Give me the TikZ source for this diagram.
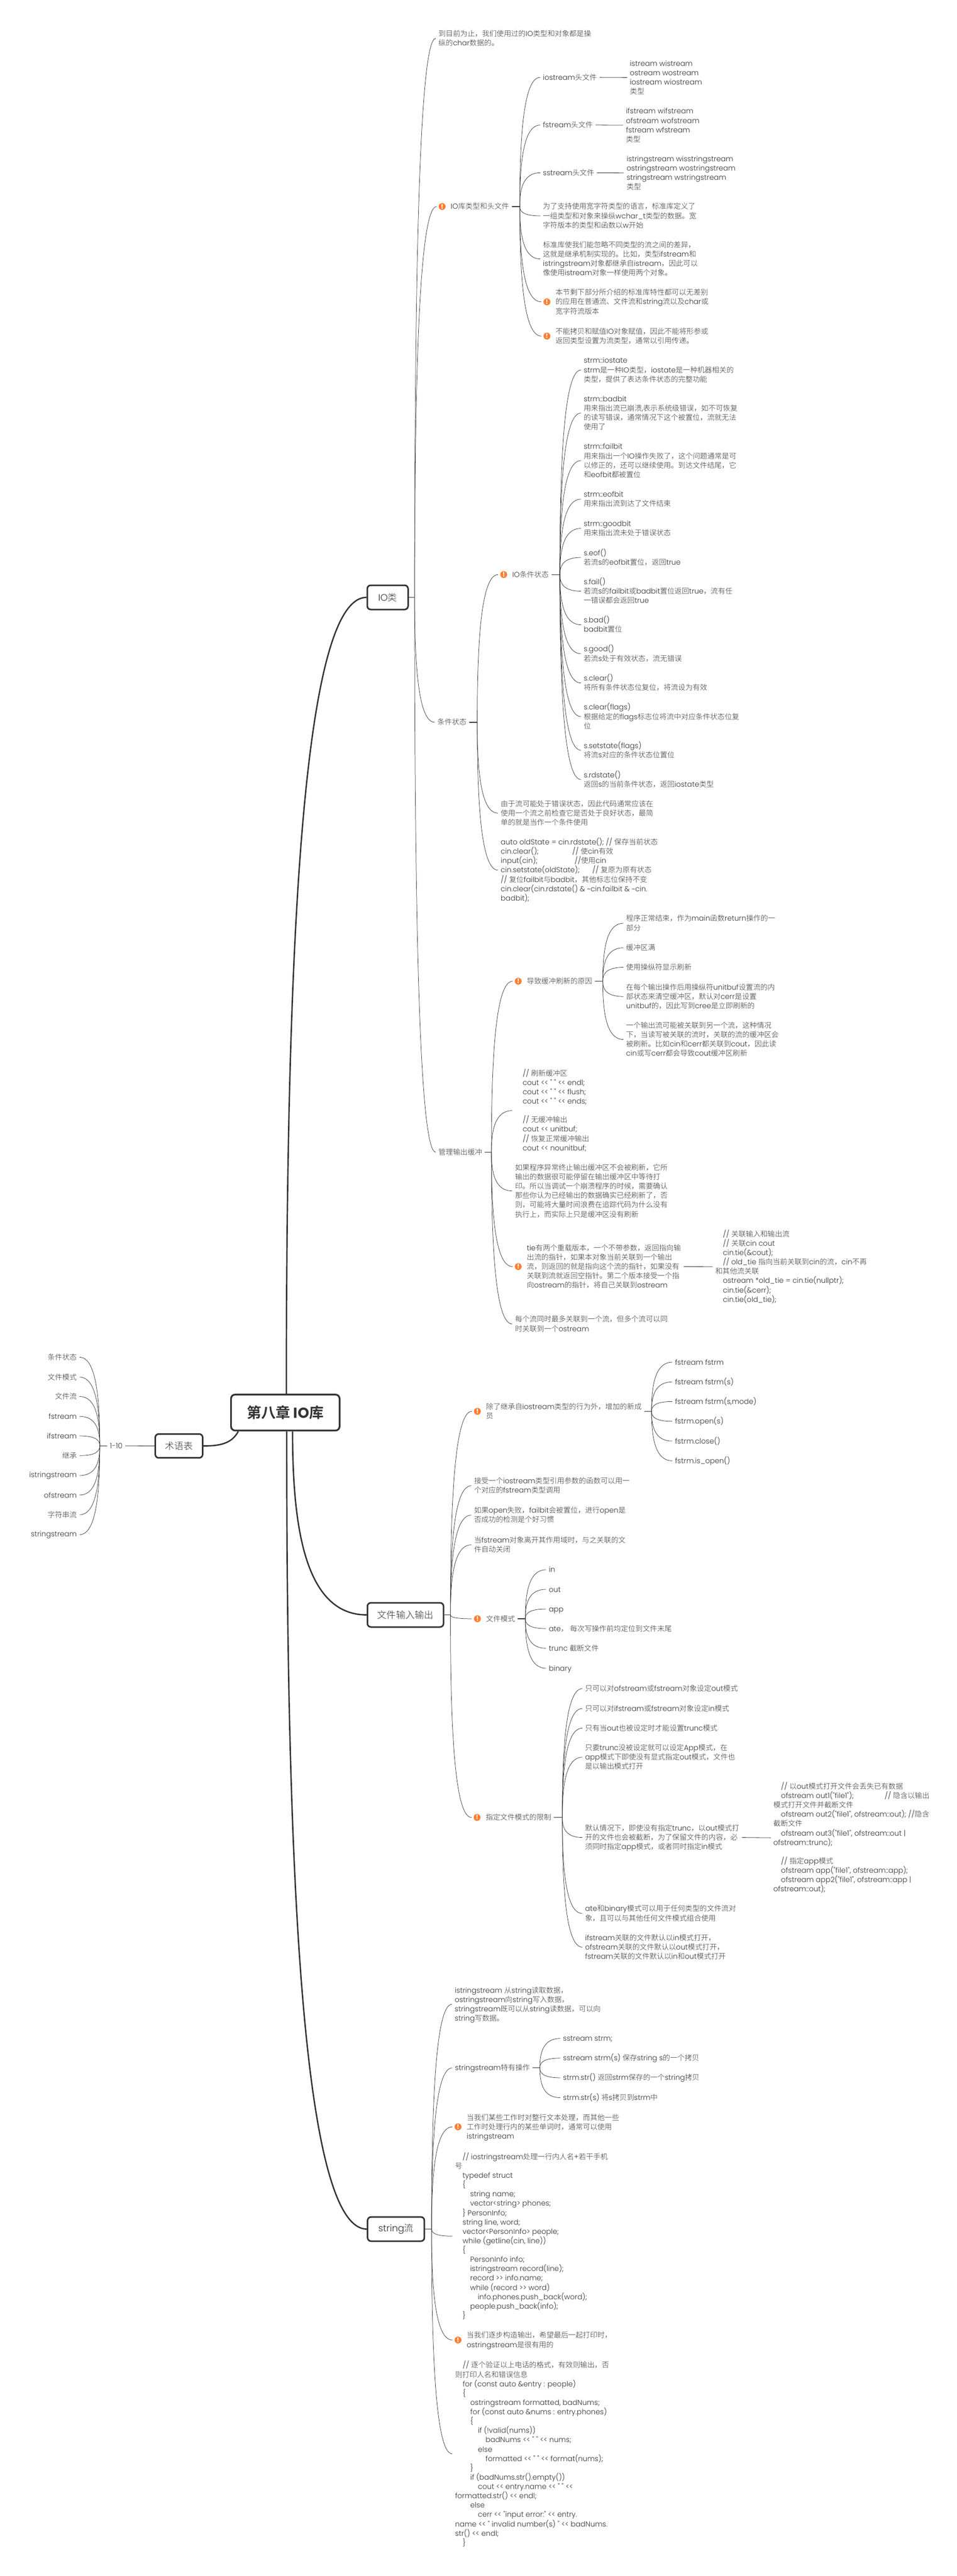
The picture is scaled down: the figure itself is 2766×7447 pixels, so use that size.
\documentclass[tikz,border=0pt]{standalone}
\usepackage{fontspec}
\usetikzlibrary{calc}
\newfontfamily\lat{Poppins}[UprightFont=* Light,BoldFont=* Bold]
\newfontfamily\cjk{Noto Sans CJK SC}[UprightFont=* Light,BoldFont=* Bold]
\XeTeXinterchartokenstate=1
\newcount\cjkcc
\cjkcc="3000
\loop \XeTeXcharclass\cjkcc=7 \ifnum\cjkcc<"9FFF \advance\cjkcc by 1 \repeat
\cjkcc="FF00
\loop \XeTeXcharclass\cjkcc=7 \ifnum\cjkcc<"FFEF \advance\cjkcc by 1 \repeat
\XeTeXinterchartoks 0 7 = {\cjk}
\XeTeXinterchartoks 4095 7 = {\cjk}
\XeTeXinterchartoks 7 0 = {\lat}
\XeTeXinterchartoks 7 4095 = {\lat}
\definecolor{tc}{HTML}{333333}
\definecolor{warnc}{HTML}{FF7F32}
\tikzset{
  txt/.style={anchor=west,inner sep=0pt,outer xsep=8pt,outer ysep=0pt,align=left,text=tc,font=\lat\fontsize{21}{27}\selectfont},
  txtr/.style={anchor=east,inner sep=0pt,outer xsep=8pt,outer ysep=0pt,align=right,text=tc,font=\lat\fontsize{21}{27}\selectfont},
  warn/.style={circle,fill=warnc,inner sep=0pt,minimum size=20pt,outer sep=6pt,text=white,font=\lat\bfseries\fontsize{18}{18}\selectfont},
  topic/.style={draw=tc,line width=4.5pt,rounded corners=10pt,fill=white,inner sep=0pt,text=tc,font=\lat\fontsize{27}{32}\selectfont},
  rootbox/.style={draw=tc,line width=5pt,rounded corners=12pt,fill=white,inner sep=0pt,text=tc,font=\lat\bfseries\fontsize{42}{48}\selectfont},
  conn/.style={draw=tc,line width=1.1pt},
  stub/.style={draw=tc,line width=2pt},
  thin stub/.style={draw=tc,line width=1.2pt},
  thick conn/.style={draw=tc,line width=4pt}
}
\newcommand\tsa{\rule{0pt}{20.5pt}}
\newcommand\tsb{\rule[-5.5pt]{0pt}{5.5pt}}
\newcommand\tx[4]{\node[txt] (#1) at (#2,#3) {\tsa #4\tsb};}
\newcommand\txi[4]{\node[warn] (#1i) at ({#2+16.5},#3) {!};\node[txt] (#1) at ({#2+33.5},#3) {\tsa #4\tsb};}
\newcommand\cv[3][conn]{\draw[#1] let \p1=(#2),\p2=(#3) in (\p1) .. controls (\x1,{0.5*\y1+0.5*\y2}) and ({0.85*\x1+0.15*\x2},\y2) .. (\p2);}
\newcommand\I{\hspace*{22pt}}
\newcommand\II{\hspace*{44pt}}
\newcommand\III{\hspace*{66pt}}
\newcommand\IV{\hspace*{88pt}}
\begin{document}
\begin{tikzpicture}[x=1pt,y=-1pt]
\useasboundingbox (0,0) rectangle (2766,7447);
% junctions
\coordinate (jio) at (1199,1727);
\coordinate (jiok) at (1503,597);
\coordinate (jcond) at (1380,2088);
\coordinate (jst) at (1619,1661);
\coordinate (jbuf) at (1421,3331);
\coordinate (jfl) at (1743,2836.6);
\coordinate (jfile) at (1302.5,4668.5);
\coordinate (jmem) at (1884,4080);
\coordinate (jmode) at (1519,4679.6);
\coordinate (jlim) at (1626,5254);
\coordinate (jstr) at (1248,6444);
\coordinate (jops) at (1561,5978);
\coordinate (jterm) at (288.5,4179.5);
% topics
\node[rootbox,minimum width=314pt,minimum height=104pt] (root) at (825,4083.5) {第八章 IO库};
\node[topic,minimum width=118pt,minimum height=70pt] (io) at (1121,1727) {IO类};
\node[topic,minimum width=137pt,minimum height=69pt] (term) at (517.5,4180) {术语表};
\node[topic,minimum width=220pt,minimum height=70pt] (file) at (1172.5,4668.5) {文件输入输出};
\node[topic,minimum width=164pt,minimum height=70pt] (str) at (1145,6444) {string流};
\coordinate (r1) at ([xshift=3pt]root.north);
\coordinate (r2) at ([xshift=21pt]root.south);
\coordinate (r3) at ([xshift=4pt]root.south);
\coordinate (r4) at ([xshift=-136pt]root.south);
\cv[thick conn]{r1}{io.west}
\cv[thick conn]{r2}{file.west}
\cv[thick conn]{r3}{str.west}
\draw[thick conn] (r4) to[out=-118,in=0] (term.east);
\draw[thin stub] (io.east) -- (jio);
\draw[thin stub] (file.east) -- (jfile);
\draw[thin stub] (str.east) -- (jstr);
% IO branch
\tx{a1}{1260}{111}{到目前为止，我们使用过的IO类型和对象都是操\\纵的char数据的。}
\txi{a2}{1262}{597}{IO库类型和头文件}
\tx{a3}{1257}{2088}{条件状态}
\tx{a4}{1260}{3331}{管理输出缓冲}
\cv{jio}{a1.west}
\cv{jio}{a2i.west}
\cv{jio}{a3.west}
\cv{jio}{a4.west}
\draw[stub] (a2.east) -- (jiok);
\draw[stub] (a3.east) -- (jcond);
\draw[stub] (a4.east) -- (jbuf);
% IO lib types
\tx{b1}{1562}{223.6}{iostream头文件}
\tx{b1c}{1813.5}{224}{istream wistream\\ostream wostream\\iostream wiostream\\类型}
\tx{b2}{1562}{361.6}{fstream头文件}
\tx{b2c}{1802}{362}{ifstream wifstream\\ofstream wofstream\\fstream wfstream\\类型}
\tx{b3}{1562}{499.5}{sstream头文件}
\tx{b3c}{1804}{500}{istringstream wisstringstream\\ostringstream wostringstream\\stringstream wstringstream\\类型}
\tx{b4}{1562}{624}{为了支持使用宽字符类型的语言，标准库定义了\\一组类型和对象来操纵wchar\_t类型的数据。宽\\字符版本的类型和函数以w开始}
\tx{b5}{1562}{748.6}{标准库使我们能忽略不同类型的流之间的差异，\\这就是继承机制实现的。比如，类型ifstream和\\istringstream对象都继承自istream，因此可以\\像使用istream对象一样使用两个对象。}
\txi{b6}{1565}{872.6}{本节剩下部分所介绍的标准库特性都可以无差别\\的应用在普通流、文件流和string流以及char或\\宽字符流版本}
\txi{b7}{1565}{971.6}{不能拷贝和赋值IO对象赋值，因此不能将形参或\\返回类型设置为流类型，通常以引用传递。}
\cv{jiok}{b1.west}
\cv{jiok}{b2.west}
\cv{jiok}{b3.west}
\cv{jiok}{b4.west}
\cv{jiok}{b5.west}
\cv{jiok}{b6i.west}
\cv{jiok}{b7i.west}
\draw[thin stub] (b1.east) -- (b1c.west);
\draw[thin stub] (b2.east) -- (b2c.west);
\draw[thin stub] (b3.east) -- (b3c.west);
% condition state
\txi{c0}{1440}{1661}{IO条件状态}
\tx{c1}{1680}{1069.5}{strm::iostate\\strm是一种IO类型，iostate是一种机器相关的\\类型，提供了表达条件状态的完整功能}
\tx{c2}{1680}{1194}{strm::badbit\\用来指出流已崩溃,表示系统级错误，如不可恢复\\的读写错误，通常情况下这个被置位，流就无法\\使用了}
\tx{c3}{1680}{1331.6}{strm::failbit\\用来指出一个IO操作失败了，这个问题通常是可\\以修正的，还可以继续使用。到达文件结尾，它\\和eofbit都被置位}
\tx{c4}{1680}{1443}{strm::eofbit\\用来指出流到达了文件结束}
\tx{c5}{1680}{1527.5}{strm::goodbit\\用来指出流未处于错误状态}
\tx{c6}{1680}{1611.6}{s.eof()\\若流s的eofbit置位，返回true}
\tx{c7}{1680}{1709}{s.fail()\\若流s的failbit或badbit置位返回true，流有任\\一错误都会返回true}
\tx{c8}{1680}{1806}{s.bad()\\badbit置位}
\tx{c9}{1680}{1890}{s.good()\\若流s处于有效状态，流无错误}
\tx{c10}{1680}{1974.5}{s.clear()\\将所有条件状态位复位，将流设为有效}
\tx{c11}{1680}{2071.7}{s.clear(flags)\\根据给定的flags标志位将流中对应条件状态位复\\位}
\tx{c12}{1680}{2169}{s.setstate(flags)\\将流s对应的条件状态位置位}
\tx{c13}{1680}{2253.7}{s.rdstate()\\返回s的当前条件状态，返回iostate类型}
\tx{c14}{1440}{2350.7}{由于流可能处于错误状态，因此代码通常应该在\\使用一个流之前检查它是否处于良好状态，最简\\单的就是当作一个条件使用}
\tx{c15}{1440}{2515.5}{auto oldState = cin.rdstate(); // 保存当前状态\\\makebox[207pt][l]{cin.clear();}// 使cin有效\\\makebox[213.6pt][l]{input(cin);}//使用cin\\\makebox[265pt][l]{cin.setstate(oldState);}// 复原为原有状态\\// 复位failbit与badbit，其他标志位保持不变\\cin.clear(cin.rdstate() \& \textasciitilde{}cin.failbit \& \textasciitilde{}cin.\\badbit);}
\cv{jcond}{c0i.west}
\cv{jcond}{c14.west}
\cv{jcond}{c15.west}
\draw[stub] (c0.east) -- (jst);
\foreach \k in {1,...,13}{\cv{jst}{c\k.west}}
% buffer
\txi{d0}{1482}{2836.6}{导致缓冲刷新的原因}
\tx{d1}{1481.4}{3210.6}{\I // 刷新缓冲区\\\I cout << " " << endl;\\\I cout << " " << flush;\\\I cout << " " << ends;\\\mbox{}\\\I // 无缓冲输出\\\I cout << unitbuf;\\\I // 恢复正常缓冲输出\\\I cout << nounitbuf;}
\tx{d2}{1481.4}{3443}{如果程序异常终止输出缓冲区不会被刷新，它所\\输出的数据很可能停留在输出缓冲区中等待打\\印。所以当调试一个崩溃程序的时候，需要确认\\那些你认为已经输出的数据确实已经刷新了，否\\则，可能将大量时间浪费在追踪代码为什么没有\\执行上，而实际上只是缓冲区没有刷新}
\txi{d3}{1482}{3661.6}{tie有两个重载版本，一个不带参数，返回指向输\\出流的指针，如果本对象当前关联到一个输出\\流，则返回的就是指向这个流的指针，如果没有\\关联到流就返回空指针。第二个版本接受一个指\\向ostream的指针，将自己关联到ostream}
\tx{d3c}{2060.6}{3662}{\I // 关联输入和输出流\\\I // 关联cin cout\\\I cin.tie(\&cout);\\\I // old\_tie 指向当前关联到cin的流，cin不再\\和其他流关联\\\I ostream *old\_tie = cin.tie(nullptr);\\\I cin.tie(\&cerr);\\\I cin.tie(old\_tie);}
\tx{d4}{1481.4}{3827.6}{每个流同时最多关联到一个流，但多个流可以同\\时关联到一个ostream}
\tx{e1}{1802.7}{2669}{程序正常结束，作为main函数return操作的一\\部分}
\tx{e2}{1802.7}{2740}{缓冲区满}
\tx{e3}{1802.7}{2796.4}{使用操纵符显示刷新}
\tx{e4}{1802.7}{2880.8}{在每个输出操作后用操纵符unitbuf设置流的内\\部状态来清空缓冲区，默认对cerr是设置\\unitbuf的，因此写到cree是立即刷新的}
\tx{e5}{1802.7}{3005}{一个输出流可能被关联到另一个流，这种情况\\下，当读写被关联的流时，关联的流的缓冲区会\\被刷新。比如cin和cerr都关联到cout，因此读\\cin或写cerr都会导致cout缓冲区刷新}
\cv{jbuf}{d0i.west}
\cv{jbuf}{d1.west}
\cv{jbuf}{d2.west}
\cv{jbuf}{d3i.west}
\cv{jbuf}{d4.west}
\draw[stub] (d0.east) -- (jfl);
\draw[thin stub] (d3.east) -- (d3c.west);
\foreach \k in {1,...,5}{\cv{jfl}{e\k.west}}
% file io
\txi{f1}{1364}{4080}{除了继承自iostream类型的行为外，增加的新成\\员}
\tx{f2}{1363}{4295}{接受一个iostream类型引用参数的函数可以用一\\个对应的fstream类型调用}
\tx{f3}{1363}{4380}{如果open失败，failbit会被置位，进行open是\\否成功的检测是个好习惯}
\tx{f4}{1363}{4466}{当fstream对象离开其作用域时，与之关联的文\\件自动关闭}
\txi{f5}{1364}{4679.6}{文件模式}
\txi{f6}{1363}{5254}{指定文件模式的限制}
\foreach \k in {2,3,4}{\cv{jfile}{f\k.west}}
\foreach \k in {1,5,6}{\cv{jfile}{f\k i.west}}
\draw[stub] (f1.east) -- (jmem);
\draw[stub] (f5.east) -- (jmode);
\draw[stub] (f6.east) -- (jlim);
\tx{g1}{1944}{3938}{fstream fstrm}
\tx{g2}{1944}{3995}{fstream fstrm(s)}
\tx{g3}{1944}{4051.7}{fstream fstrm(s,mode)}
\tx{g4}{1944}{4109}{fstrm.open(s)}
\tx{g5}{1944}{4166}{fstrm.close()}
\tx{g6}{1944}{4223}{fstrm.is\_open()}
\foreach \k in {1,...,6}{\cv{jmem}{g\k.west}}
\tx{h1}{1579}{4538}{in}
\tx{h2}{1579}{4594.7}{out}
\tx{h3}{1579}{4651.5}{app}
\tx{h4}{1579}{4708}{ate， 每次写操作前均定位到文件末尾}
\tx{h5}{1579}{4765}{trunc 截断文件}
\tx{h6}{1579}{4822.6}{binary}
\foreach \k in {1,...,6}{\cv{jmode}{h\k.west}}
\tx{k1}{1684}{4881.6}{只可以对ofstream或fstream对象设定out模式}
\tx{k2}{1684}{4939}{只可以对ifstream或fstream对象设定in模式}
\tx{k3}{1684}{4996}{只有当out也被设定时才能设置trunc模式}
\tx{k4}{1684}{5080}{只要trunc没被设定就可以设定App模式，在\\app模式下即使没有显式指定out模式，文件也\\是以输出模式打开}
\tx{k5}{1684}{5312}{默认情况下，即使没有指定trunc，以out模式打\\开的文件也会被截断，为了保留文件的内容，必\\须同时指定app模式，或者同时指定in模式}
\tx{k5c}{2228.6}{5312.8}{\I // 以out模式打开文件会丢失已有数据\\\I\makebox[299.6pt][l]{ofstream out1("file1");}// 隐含以输出\\模式打开文件并截断文件\\\I ofstream out2("file1", ofstream::out); //隐含\\截断文件\\\I ofstream out3("file1", ofstream::out |\\ofstream::trunc);\\\mbox{}\\\I // 指定app模式\\\I ofstream app("file1", ofstream::app);\\\I ofstream app2("file1", ofstream::app |\\ofstream::out);}
\tx{k6}{1684}{5531.6}{ate和binary模式可以用于任何类型的文件流对\\象，且可以与其他任何文件模式组合使用}
\tx{k7}{1684}{5629}{ifstream关联的文件默认以in模式打开，\\ofstream关联的文件默认以out模式打开，\\fstream关联的文件默认以in和out模式打开}
\foreach \k in {1,...,7}{\cv{jlim}{k\k.west}}
\draw[thin stub] (k5.east) -- (k5c.west);
% string stream
\tx{m1}{1307}{5794}{istringstream 从string读取数据，\\ostringstream向string写入数据，\\stringstream既可以从string读数据，可以向\\string写数据。}
\tx{m2}{1307.7}{5978}{stringstream特有操作}
\txi{m3}{1308}{6148.4}{当我们某些工作时对整行文本处理，而其他一些\\工作时处理行内的某些单词时，通常可以使用\\istringstream}
\tx{m4}{1307.7}{6464.4}{\I // iostringstream处理一行内人名+若干手机\\号\\\I typedef struct\\\I \{\\\II string name;\\\II vector<string> phones;\\\I \} PersonInfo;\\\I string line, word;\\\I vector<PersonInfo> people;\\\I while (getline(cin, line))\\\I \{\\\II PersonInfo info;\\\II istringstream record(line);\\\II record >> info.name;\\\II while (record >> word)\\\III info.phones.push\_back(word);\\\II people.push\_back(info);\\\I \}}
\txi{m5}{1308}{6764.8}{当我们逐步构造输出，希望最后一起打印时，\\ostringstream是很有用的}
\tx{m6}{1308}{7094}{\I // 逐个验证以上电话的格式，有效则输出，否\\则打印人名和错误信息\\\I for (const auto \&entry : people)\\\I \{\\\II ostringstream formatted, badNums;\\\II for (const auto \&nums : entry.phones)\\\II \{\\\III if (!valid(nums))\\\IV badNums << " " << nums;\\\III else\\\IV formatted << " " << format(nums);\\\II \}\\\II if (badNums.str().empty())\\\III cout << entry.name << " " <<\\formatted.str() << endl;\\\II else\\\III cerr << "input error:" << entry.\\name << " invalid number(s) " << badNums.\\str() << endl;\\\I \}}
\foreach \k in {1,2,4,6}{\cv{jstr}{m\k.west}}
\foreach \k in {3,5}{\cv{jstr}{m\k i.west}}
\draw[stub] (m2.east) -- (jops);
\tx{n1}{1620}{5893}{sstream strm;}
\tx{n2}{1620}{5949.8}{sstream strm(s) 保存string s的一个拷贝}
\tx{n3}{1620}{6006.6}{strm.str() 返回strm保存的一个string拷贝}
\tx{n4}{1620}{6064}{strm.str(s) 将s拷贝到strm中}
\foreach \k in {1,...,4}{\cv{jops}{n\k.west}}
% glossary
\node[txt,anchor=center] (q0) at (336,4179.5) {1-10};
\draw[thin stub] (term.west) -- (q0.east);
\draw[stub] (q0.west) -- (jterm);
\node[txtr] (q1) at (230,3923.6) {条件状态};
\node[txtr] (q2) at (230,3981) {文件模式};
\node[txtr] (q3) at (230,4037) {文件流};
\node[txtr] (q4) at (230,4094.6) {fstream};
\node[txtr] (q5) at (230,4151) {ifstream};
\node[txtr] (q6) at (230,4208) {继承};
\node[txtr] (q7) at (230,4265.6) {istringstream};
\node[txtr] (q8) at (230,4322) {ofstream};
\node[txtr] (q9) at (230,4379) {字符串流};
\node[txtr] (q10) at (230,4436.6) {stringstream};
\foreach \k in {1,...,10}{\cv{jterm}{q\k.east}}
\end{tikzpicture}
\end{document}
